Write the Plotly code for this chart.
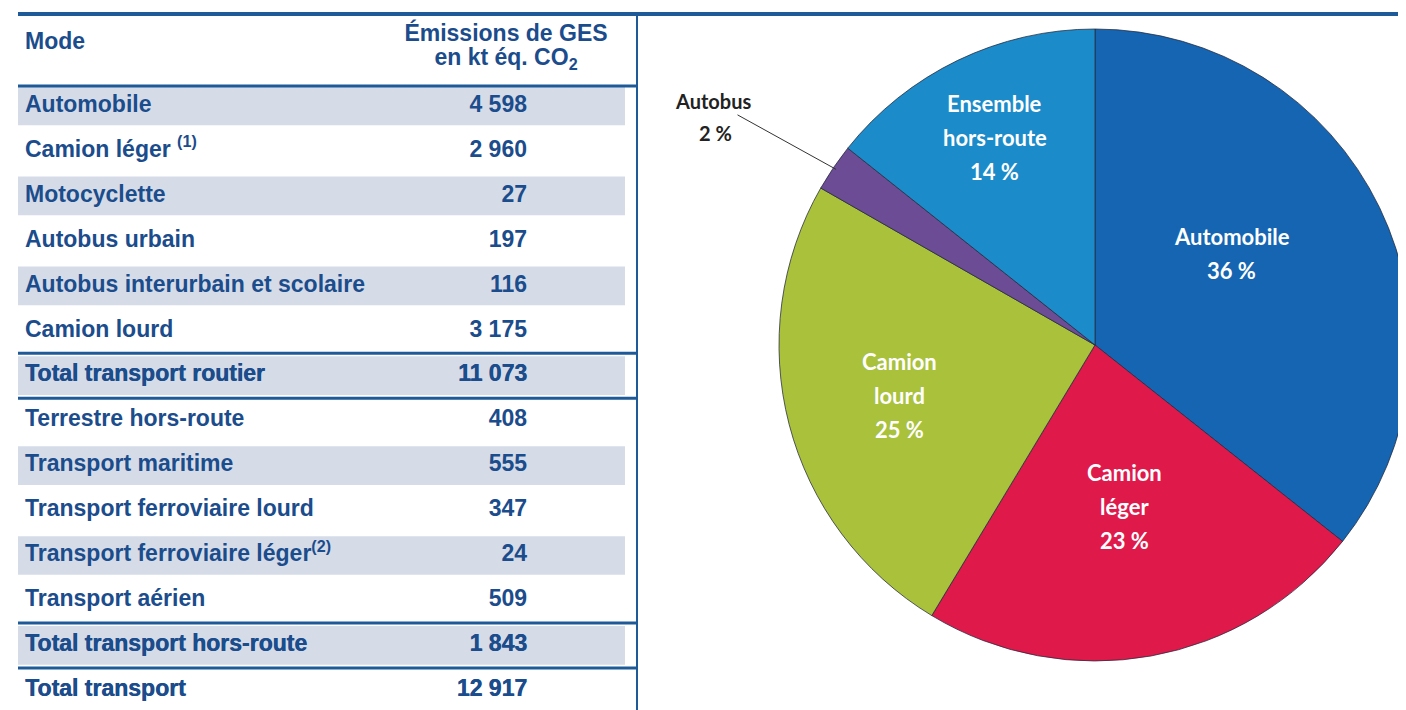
import math
import plotly.graph_objects as go

# ---------------- data ----------------
modes = [
    "Automobile", "Camion léger <sup>(1)</sup>", "Motocyclette", "Autobus urbain",
    "Autobus interurbain et scolaire", "Camion lourd", "Total transport routier",
    "Terrestre hors-route", "Transport maritime", "Transport ferroviaire lourd",
    "Transport ferroviaire léger<sup>(2)</sup>", "Transport aérien",
    "Total transport hors-route", "Total transport",
]
emissions = [4598, 2960, 27, 197, 116, 3175, 11073, 408, 555, 347, 24, 509, 1843, 12917]
is_total = [False, False, False, False, False, False, True, False, False, False, False, False, True, True]
shaded = [True, False, True, False, True, False, True, False, True, False, True, False, True, False]

header_mode = "Mode"
header_value_lines = ["Émissions de GES", "en kt éq. CO<sub>2</sub>"]

pie_labels = ["Automobile", "Camion<br>léger", "Camion<br>lourd", "Autobus", "Ensemble<br>hors-route"]
pie_values = [4598, 2960, 3175, 313, 1843]
pie_colors = ["#1565B2", "#E0194B", "#A9C13B", "#6C4C95", "#1C8BC9"]

# ---------------- style ----------------
W, H = 1406, 710
BLUE = "#1E5A98"
TXT = "#1B4C8C"
SHADE = "#D5DCE8"
TFONT = "Liberation Sans, Arial, sans-serif"
PFONT = "Lato, Open Sans, sans-serif"

TABLE_W = 629          # pixel width of the table panel
ROW0, ROWH = 98, 44.95  # first row centre / row pitch in px
label_radius = [0.52, 0.52, 0.64, None, 0.73]   # radial placement of the pie labels
label_turn = [-8, 0, 0, 0, 0]                    # angular nudge of the pie labels (deg)
LINE_GAP = 34


def fmt(v):
    return f"{v:,}".replace(",", " ")


def row_of(px):
    return (px - ROW0) / ROWH


fig = go.Figure()

rows = list(range(len(modes)))
reg = [i for i in rows if not is_total[i]]
tot = [i for i in rows if is_total[i]]

# shading bars through the axes
fig.add_trace(go.Bar(
    y=[i for i in rows if shaded[i]],
    x=[607 for i in rows if shaded[i]],
    base=10, orientation="h", width=0.86,
    marker=dict(color=SHADE, line=dict(width=0)),
    hoverinfo="skip", showlegend=False, xaxis="x", yaxis="y",
))

heavy = f"0.5px 0 0 {TXT}"
for idx, is_tot in ((reg, False), (tot, True)):
    tf = dict(family=TFONT, size=23, color=TXT, weight="bold",
              shadow=heavy if is_tot else "none")
    fig.add_trace(go.Scatter(
        x=[17] * len(idx), y=idx, mode="text",
        text=[modes[i] for i in idx], textposition="middle right", textfont=tf,
        hoverinfo="skip", showlegend=False, xaxis="x", yaxis="y",
    ))
    fig.add_trace(go.Scatter(
        x=[519] * len(idx), y=idx, mode="text",
        text=[fmt(emissions[i]) for i in idx], textposition="middle left", textfont=tf,
        hoverinfo="skip", showlegend=False, xaxis="x", yaxis="y",
    ))

# header
hf = dict(family=TFONT, size=23, color=TXT, weight="bold")
fig.add_trace(go.Scatter(
    x=[17], y=[row_of(35)], mode="text", text=[header_mode], textposition="middle right",
    textfont=hf, hoverinfo="skip", showlegend=False, xaxis="x", yaxis="y",
))
fig.add_trace(go.Scatter(
    x=[498, 498], y=[row_of(27), row_of(51)], mode="text", text=header_value_lines,
    textposition="middle center", textfont=hf,
    hoverinfo="skip", showlegend=False, xaxis="x", yaxis="y",
))

# pie
dom_x = ((1087 - 316) / W, (1087 + 316) / W)
dom_y = ((H - 337 - 316) / H, (H - 337 + 316) / H)
total = sum(pie_values)
pct = [f"{round(100 * v / total)} %" for v in pie_values]
fig.add_trace(go.Pie(
    labels=pie_labels, values=pie_values, textinfo="none",
    sort=False, direction="clockwise", rotation=0,
    marker=dict(colors=pie_colors, line=dict(color="rgba(35,40,60,0.75)", width=1)),
    domain=dict(x=list(dom_x), y=list(dom_y)),
    hoverinfo="skip", showlegend=False,
))

r_px = min((dom_x[1] - dom_x[0]) * W, (dom_y[1] - dom_y[0]) * H) / 2
cx = (dom_x[0] + dom_x[1]) / 2 * W
cy = (dom_y[0] + dom_y[1]) / 2 * H   # from bottom
cum = 0
for i, (lab, v) in enumerate(zip(pie_labels, pie_values)):
    mid = (cum + v / 2) / total
    cum += v
    ang = 2 * math.pi * mid
    if label_radius[i] is None:
        # outside label with a leader line (Autobus)
        tx = cx + r_px * 0.99 * math.sin(ang)
        ty = cy + r_px * 0.99 * math.cos(ang)
        fig.add_annotation(
            x=tx / W, y=ty / H, xref="paper", yref="paper",
            xanchor="center", yanchor="middle",
            text=lab, showarrow=True, arrowhead=0, arrowwidth=1,
            arrowcolor="#333333", ax=-123, ay=-68, standoff=0,
            font=dict(family=PFONT, size=20, color="#222222", weight="bold"),
        )
        fig.add_annotation(
            x=tx / W, y=ty / H, xref="paper", yref="paper",
            xanchor="center", yanchor="middle",
            text=pct[i], showarrow=False, xshift=-121, yshift=36,
            font=dict(family=PFONT, size=20, color="#222222", weight="bold"),
        )
        continue
    a = ang + math.radians(label_turn[i])
    lx = cx + r_px * label_radius[i] * math.sin(a)
    ly = cy + r_px * label_radius[i] * math.cos(a)
    lines = lab.split("<br>") + [pct[i]]
    n = len(lines)
    for j, t in enumerate(lines):
        fig.add_annotation(
            x=lx / W, y=ly / H, xref="paper", yref="paper", text=t, showarrow=False,
            xanchor="center", yanchor="middle",
            yshift=((n - 1) / 2 - j) * LINE_GAP,
            font=dict(family=PFONT, size=22, color="white", weight="bold"),
        )

# structural lines
def hline(px_y, x0, x1, w=3):
    fig.add_shape(type="line", xref="paper", yref="y", x0=x0, x1=x1,
                  y0=row_of(px_y), y1=row_of(px_y), line=dict(color=BLUE, width=w))

hline(6, 10 / W, 1.0, w=4)
hline(78, 10 / W, TABLE_W / W)
for b in (5.5, 6.5, 11.5, 12.5):
    py = ROW0 + b * ROWH
    hline(py, 10 / W, TABLE_W / W)
fig.add_shape(type="line", xref="paper", yref="y", x0=TABLE_W / W, x1=TABLE_W / W,
              y0=row_of(6), y1=row_of(H + 5), line=dict(color=BLUE, width=2))

fig.update_layout(
    width=W, height=H, margin=dict(l=0, r=0, t=0, b=0),
    paper_bgcolor="white", plot_bgcolor="rgba(0,0,0,0)",
    barmode="overlay",
    xaxis=dict(domain=[0, TABLE_W / W], range=[0, TABLE_W], visible=False, fixedrange=True),
    yaxis=dict(domain=[0, 1], range=[row_of(H), row_of(0)], visible=False, fixedrange=True),
)

fig.write_html("out.html")
